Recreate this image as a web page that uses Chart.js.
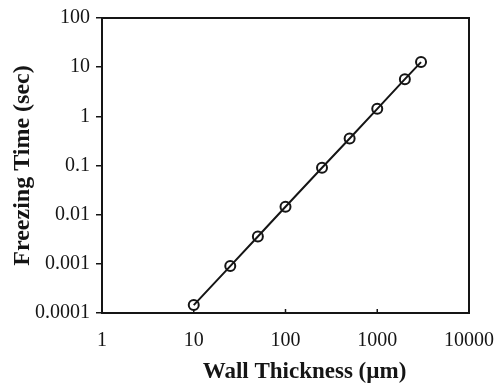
<!DOCTYPE html>
<html>
<head>
<meta charset="utf-8">
<title>Freezing time vs wall thickness</title>
<script src="https://cdn.jsdelivr.net/npm/chart.js@4/dist/chart.umd.min.js"></script>
<style>
    html, body { margin: 0; padding: 0; background: #fff; }
    #wrap { width: 494px; height: 387px; }
</style>
</head>
<body>
<div id="wrap"><canvas id="freeze-chart" width="494" height="387"></canvas></div>
<script>
// Freezing time against wall thickness (log-log)
const wallThickness = [10, 25, 50, 100, 250, 500, 1000, 2000, 3000];
const freezingTime = [0.000145, 0.0009, 0.0036, 0.0145, 0.09, 0.355, 1.42, 5.7, 12.7];
const xTicks = [1, 10, 100, 1000, 10000];
const yTicks = [0.0001, 0.001, 0.01, 0.1, 1, 10, 100];
const xTitle = 'Wall Thickness (µm)';
const yTitle = 'Freezing Time (sec)';

const INK = '#151515';
const SERIF = '"Liberation Serif", "Times New Roman", serif';

class FreezingChart {
    constructor(canvasId) {
        this.ctx = document.getElementById(canvasId).getContext('2d');
        this.chart = new Chart(this.ctx, this.buildConfig());
    }

    // box round the plot, short inward ticks on x, and both axis titles
    framePlugin() {
        return {
            id: 'frame',
            afterDraw(chart) {
                const { ctx, chartArea: a, scales } = chart;
                ctx.save();
                ctx.strokeStyle = INK;
                ctx.lineWidth = 2;
                ctx.strokeRect(a.left, a.top, a.right - a.left, a.bottom - a.top);

                ctx.lineWidth = 1.5;
                xTicks.forEach(v => {
                    const px = scales.x.getPixelForValue(v);
                    ctx.beginPath();
                    ctx.moveTo(px, a.bottom);
                    ctx.lineTo(px, a.bottom - 4);
                    ctx.stroke();
                });

                ctx.fillStyle = INK;
                ctx.font = 'bold 23px ' + SERIF;
                ctx.textAlign = 'center';
                ctx.textBaseline = 'alphabetic';
                ctx.fillText(xTitle, (a.left + a.right) / 2 + 19, 378);

                ctx.translate(23, (a.top + a.bottom) / 2);
                ctx.rotate(-Math.PI / 2);
                ctx.font = 'bold 24px ' + SERIF;
                ctx.textBaseline = 'middle';
                ctx.fillText(yTitle, 0, 0);
                ctx.restore();
            }
        };
    }

    buildConfig() {
        const tickFont = { family: SERIF, size: 20 };
        return {
            type: 'line',
            data: {
                datasets: [{
                    data: wallThickness.map((x, i) => ({ x: x, y: freezingTime[i] })),
                    borderColor: INK,
                    borderWidth: 2,
                    tension: 0,
                    pointRadius: 5,
                    pointBorderWidth: 2,
                    pointBorderColor: INK,
                    pointBackgroundColor: 'rgba(0,0,0,0)'
                }]
            },
            options: {
                responsive: false,
                animation: false,
                layout: { padding: { top: 16, right: 25, bottom: 0, left: 0 } },
                plugins: {
                    legend: { display: false },
                    tooltip: { enabled: false }
                },
                scales: {
                    x: {
                        type: 'logarithmic',
                        min: 1,
                        max: 10000,
                        afterBuildTicks: s => { s.ticks = xTicks.map(v => ({ value: v })); },
                        afterFit: s => {
                            s.height = 74;
                            s.paddingLeft = 0;
                            s.paddingRight = 0;
                        },
                        grid: { display: false },
                        border: { display: false },
                        ticks: {
                            color: INK,
                            font: tickFont,
                            padding: 8,
                            maxRotation: 0,
                            autoSkip: false,
                            callback: v => String(v)
                        }
                    },
                    y: {
                        type: 'logarithmic',
                        min: 0.0001,
                        max: 100,
                        afterBuildTicks: s => { s.ticks = yTicks.map(v => ({ value: v })); },
                        afterFit: s => { s.width = 102; },
                        grid: {
                            drawOnChartArea: false,
                            tickLength: 6,
                            color: INK,
                            lineWidth: 1.5
                        },
                        border: { display: false },
                        ticks: {
                            color: INK,
                            font: tickFont,
                            padding: 6,
                            autoSkip: false,
                            callback: v => String(v)
                        }
                    }
                }
            },
            plugins: [this.framePlugin()]
        };
    }
}

document.addEventListener('DOMContentLoaded', () => {
    new FreezingChart('freeze-chart');
});
</script>
</body>
</html>
